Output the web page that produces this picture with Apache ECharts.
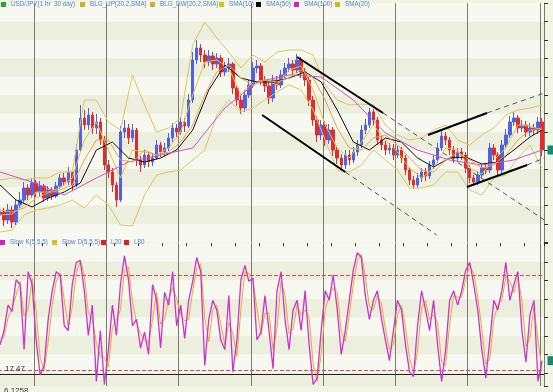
<!DOCTYPE html>
<html><head><meta charset="utf-8">
<script src="https://cdn.jsdelivr.net/npm/echarts@6/dist/echarts.min.js"></script>
<style>html,body{margin:0;padding:0;background:#f2f4e6;}#c{width:553px;height:392px;}</style>
</head><body><div id="c"></div>
<script>
// ---- data ----
const close = [101.88,101.80,101.90,101.78,101.95,102.00,102.12,102.05,102.17,102.08,
 102.14,102.02,102.10,102.04,102.14,102.22,102.18,102.28,102.15,102.50,
 102.82,102.75,102.85,102.72,102.78,102.60,102.35,102.28,102.15,102.00,
 102.68,102.72,102.62,102.70,102.40,102.35,102.45,102.38,102.42,102.55,
 102.48,102.52,102.62,102.72,102.68,102.78,102.74,103.00,103.40,103.52,
 103.45,103.38,103.44,103.36,103.42,103.28,103.32,103.36,103.12,103.00,
 102.92,103.05,103.15,103.32,103.34,103.20,103.14,103.02,103.20,103.15,
 103.25,103.32,103.36,103.30,103.40,103.28,103.20,103.00,102.80,102.65,
 102.75,102.60,102.70,102.50,102.42,102.35,102.45,102.40,102.48,102.55,
 102.70,102.75,102.88,102.80,102.60,102.55,102.50,102.52,102.45,102.50,
 102.42,102.30,102.20,102.15,102.22,102.28,102.24,102.35,102.40,102.52,
 102.64,102.60,102.50,102.42,102.48,102.45,102.32,102.22,102.18,102.25,
 102.32,102.30,102.52,102.45,102.30,102.55,102.65,102.78,102.82,102.72,
 102.75,102.68,102.72,102.70,102.78,102.50];
const firstOpen = 101.85;
const high = [101.95,101.92,101.96,101.94,102.01,102.08,102.18,102.16,102.22,102.20,
 102.19,102.16,102.14,102.13,102.18,102.26,102.27,102.33,102.30,102.56,
 102.95,102.90,102.92,102.88,102.86,102.82,102.64,102.40,102.32,102.18,
 102.74,102.80,102.76,102.76,102.72,102.44,102.50,102.48,102.47,102.60,
 102.58,102.57,102.67,102.77,102.76,102.83,102.82,103.06,103.48,103.60,
 103.56,103.50,103.50,103.48,103.47,103.45,103.38,103.42,103.38,103.15,
 103.04,103.10,103.20,103.38,103.40,103.37,103.24,103.18,103.25,103.24,
 103.30,103.37,103.42,103.40,103.46,103.43,103.32,103.23,103.04,102.84,
 102.80,102.79,102.76,102.73,102.54,102.46,102.50,102.50,102.53,102.60,
 102.75,102.81,102.92,102.91,102.83,102.64,102.59,102.57,102.56,102.54,
 102.53,102.45,102.33,102.24,102.27,102.32,102.32,102.39,102.45,102.57,
 102.70,102.68,102.63,102.54,102.52,102.52,102.48,102.35,102.25,102.29,
 102.36,102.36,102.57,102.56,102.48,102.60,102.71,102.84,102.88,102.85,
 102.80,102.79,102.77,102.76,102.83,102.82];
const low = [101.78,101.74,101.76,101.72,101.75,101.92,101.97,102.00,102.02,102.03,
 102.04,101.98,101.99,102.00,102.02,102.11,102.14,102.15,102.10,102.13,
 102.48,102.70,102.70,102.66,102.66,102.55,102.30,102.22,102.08,101.93,
 101.98,102.62,102.56,102.58,102.34,102.28,102.32,102.33,102.34,102.40,
 102.43,102.44,102.49,102.58,102.62,102.65,102.68,102.72,102.97,103.36,
 103.38,103.32,103.34,103.30,103.32,103.23,103.24,103.28,103.06,102.94,
 102.86,102.88,103.02,103.12,103.27,103.15,103.08,102.96,102.98,103.10,
 103.12,103.22,103.28,103.25,103.27,103.22,103.14,102.94,102.74,102.58,
 102.60,102.54,102.56,102.44,102.36,102.31,102.31,102.35,102.37,102.44,
 102.52,102.66,102.72,102.74,102.55,102.50,102.45,102.46,102.40,102.42,
 102.37,102.25,102.15,102.11,102.12,102.18,102.19,102.21,102.31,102.37,
 102.49,102.55,102.45,102.37,102.38,102.40,102.27,102.17,102.14,102.15,
 102.22,102.26,102.27,102.40,102.24,102.27,102.52,102.62,102.74,102.67,
 102.68,102.63,102.64,102.65,102.66,102.44];
// sampled every 3 bars
const bbUp = [102.20,102.22,102.20,102.22,102.22,102.28,102.28,103.00,103.00,102.78,
 102.70,103.25,102.95,102.68,102.72,102.82,103.55,103.78,103.62,103.48,
 103.32,103.45,103.38,103.48,103.50,103.50,103.45,103.15,103.00,102.95,
 102.96,102.95,102.75,102.65,102.60,102.62,102.70,102.75,102.60,102.55,
 102.65,102.72,102.85,102.90,102.92,102.95];
const bbDn = [101.68,101.70,101.85,101.90,101.92,101.95,102.00,101.92,102.05,101.95,
 101.75,101.74,102.05,102.25,102.28,102.30,102.40,102.50,102.85,103.00,
 102.88,102.92,103.00,103.08,103.15,103.10,102.90,102.60,102.30,102.28,
 102.35,102.50,102.40,102.30,102.12,102.12,102.15,102.28,102.28,102.10,
 102.05,102.22,102.25,102.42,102.55,102.32];
const sma10 = [101.85,101.86,101.95,102.08,102.08,102.12,102.22,102.60,102.78,102.50,
 102.22,102.50,102.48,102.45,102.52,102.68,103.05,103.38,103.40,103.32,
 103.05,103.18,103.20,103.15,103.30,103.34,103.10,102.75,102.52,102.42,
 102.58,102.75,102.60,102.48,102.32,102.22,102.32,102.52,102.50,102.32,
 102.26,102.40,102.52,102.75,102.74,102.70];
const sma20 = [101.90,101.88,101.92,102.02,102.07,102.10,102.15,102.40,102.60,102.60,
 102.40,102.38,102.50,102.45,102.48,102.58,102.75,103.05,103.28,103.35,
 103.22,103.15,103.20,103.18,103.22,103.30,103.22,103.00,102.72,102.52,
 102.50,102.62,102.65,102.55,102.42,102.30,102.28,102.40,102.48,102.40,
 102.32,102.35,102.45,102.60,102.70,102.72];
// sampled every 4 bars
const sma50 = [102.15,102.00,101.93,102.02,102.08,102.17,102.50,102.58,102.42,102.38,
 102.42,102.50,102.70,103.10,103.35,103.22,103.18,103.18,103.22,103.28,
 103.18,102.90,102.58,102.50,102.62,102.58,102.42,102.33,102.42,102.43,
 102.36,102.38,102.50,102.63,102.70];
// sampled every 8 bars
const sma100 = [102.28,102.18,102.05,102.22,102.38,102.45,102.52,102.92,103.18,103.25,
 103.23,103.00,102.67,102.50,102.40,102.35,102.40,102.50];
const stochK = [36,45,61,57,77,74,33,82,74,39,
 17,23,52,70,82,80,48,45,74,88,
 89,70,42,61,13,45,11,33,61,42,
 74,92,77,48,52,34,44,30,74,64,
 34,69,61,82,48,61,40,64,76,91,
 82,23,52,64,58,39,33,67,19,39,
 77,86,76,78,39,44,67,45,21,70,
 82,52,33,58,64,45,70,36,11,15,
 45,70,64,80,58,30,45,64,83,94,
 91,67,52,64,70,53,39,26,45,64,
 58,36,19,16,48,70,58,45,64,36,
 13,33,64,70,61,70,83,88,74,58,
 33,15,39,64,58,70,88,64,74,82,
 45,25,55,64,13,26];
const stochD = [38,41,53,59,67,76,54,58,78,57,
 28,20,38,61,76,81,64,47,60,81,
 89,80,56,52,37,29,28,22,47,52,
 58,83,85,63,50,43,39,37,52,69,
 49,52,65,72,65,55,51,52,70,84,
 87,53,38,58,61,49,36,50,43,29,
 58,82,81,77,59,42,56,56,33,46,
 76,67,43,46,61,55,58,53,24,13,
 30,58,67,72,69,44,38,55,74,89,
 93,79,60,58,67,62,46,33,36,55,
 61,47,28,18,32,59,64,52,55,50,
 25,23,49,67,66,66,77,86,81,66,
 46,24,27,52,61,64,79,76,69,78,
 64,35,40,60,39,20];
const stochLevels = [20, 80];
const stochMarkLevel = 17.47;
// trend lines: [barIndex1, price1, barIndex2, price2]
const trendSolid = [[74,103.43,95.4,102.87],[65.3,102.85,86.0,102.28],[106.6,102.65,121.3,102.87],[116.3,102.13,131.3,102.35]];
const trendDashed = [[95.4,102.87,135.6,101.80],[86.0,102.28,108.8,101.65],[121.3,102.87,135.6,103.07],[131.3,102.35,135.6,102.42]];
const xTickLabels = ['6.1258'];

// ---- build ----
const N = close.length;
const categories = close.map((_, i) => 'h' + i);
const openP = [firstOpen].concat(close.slice(0, N - 1));
const candles = close.map((c, i) => [openP[i], c, low[i], high[i]]);
const sampled = (vals, step) => vals.map((v, k) => [Math.min(k * step, N - 1), v]);

const FONT = 'Liberation Sans';
const legTxt = {fontSize: 6.3, color: '#5b7fcc', fontFamily: FONT};
function leg(name, color, left, top) {
  return {data: [{name: name, itemStyle: {color: color, borderColor: color, borderWidth: 0}}], left: left, top: top, icon: 'rect',
    itemWidth: 5, itemHeight: 5, padding: 0, selectedMode: false, textStyle: legTxt};
}
function ln(name, data, color, xi, yi, width, z) {
  return {name: name, type: 'line', xAxisIndex: xi, yAxisIndex: yi, data: data, symbol: 'none',
    showSymbol: false, lineStyle: {color: color, width: width}, itemStyle: {color: color}, z: z || 4, silent: true};
}
const bandColors = ['#f7f8ef', '#ecefde'];
const vSplit = {show: true, interval: (i) => i % 18 === 9, lineStyle: {color: '#7a7a72', width: 1}};

const series = [
  {name: 'USD/JPY(1 hr  30 day)', type: 'candlestick', xAxisIndex: 0, yAxisIndex: 0, data: candles,
   barWidth: 3, z: 3,
   itemStyle: {color: '#5062e4', color0: '#e52a2e', borderColor: '#5062e4', borderColor0: '#e52a2e', borderWidth: 1},
   markPoint: {symbol: 'rect', symbolSize: [7, 9], symbolOffset: [9, 0], label: {show: false},
     itemStyle: {color: '#168a74'}, data: [{coord: [N - 1, close[N - 1]]}]}},
  ln('BLG_UP(20,2,SMA)', sampled(bbUp, 3), '#d8c862', 0, 0, 1),
  ln('BLG_DW(20,2,SMA)', sampled(bbDn, 3), '#d8c862', 0, 0, 1),
  ln('SMA(10)', sampled(sma10, 3), '#e0c43a', 0, 0, 1),
  ln('SMA(50)', sampled(sma50, 4), '#111111', 0, 0, 1),
  ln('SMA(100)', sampled(sma100, 8), '#d050c8', 0, 0, 1),
  ln('SMA(20)', sampled(sma20, 3), '#e2a64a', 0, 0, 1),
  ln('Slow D(5,5,5)', stochD, '#e8a830', 1, 2, 1, 4),
  Object.assign(ln('Slow K(5,5,5)', stochK, '#cc33cc', 1, 2, 1.3, 5), {
    markPoint: {symbol: 'rect', symbolSize: [7, 9], symbolOffset: [9, 0], label: {show: false},
      itemStyle: {color: '#168a74'}, data: [{coord: [N - 1, stochK[N - 1]]}]},
    markLine: {symbol: 'none', silent: true,
      data: [{yAxis: stochMarkLevel, lineStyle: {color: '#222', type: 'solid', width: 1},
        label: {show: true, position: 'insideStartTop', formatter: '{c}', fontSize: 8, color: '#333', fontFamily: FONT, distance: [7, 1]}}]}}),
  {name: 'L20', type: 'line', xAxisIndex: 1, yAxisIndex: 2, data: [],
   markLine: {symbol: 'none', silent: true, label: {show: false}, lineStyle: {color: '#e84848', type: [4, 2], width: 1}, data: [{yAxis: stochLevels[0]}]}},
  {name: 'L80', type: 'line', xAxisIndex: 1, yAxisIndex: 2, data: [],
   markLine: {symbol: 'none', silent: true, label: {show: false}, lineStyle: {color: '#e84848', type: [4, 2], width: 1}, data: [{yAxis: stochLevels[1]}]}}
];
trendSolid.forEach(t => series.push({type: 'line', xAxisIndex: 2, yAxisIndex: 0, data: [[t[0], t[1]], [t[2], t[3]]],
  symbol: 'none', silent: true, z: 6, lineStyle: {color: '#000', width: 2, type: 'solid'}}));
trendDashed.forEach(t => series.push({type: 'line', xAxisIndex: 2, yAxisIndex: 0, data: [[t[0], t[1]], [t[2], t[3]]],
  symbol: 'none', silent: true, z: 6, lineStyle: {color: '#555', width: 1, type: [5, 4]}}));

const tickAxis = (grid, max) => ({gridIndex: grid, type: 'value', min: 0, max: max, interval: 1, inverse: true,
  position: 'right', axisLine: {show: false}, axisTick: {show: true, length: 4, lineStyle: {color: '#333'}},
  axisLabel: {show: false}, splitLine: {show: false}, splitArea: {show: true, areaStyle: {color: bandColors}}});

const option = {
  animation: false,
  backgroundColor: '#f2f4e6',
  legend: [
    leg('USD/JPY(1 hr  30 day)', '#2aa82a', 1, 1.5),
    leg('BLG_UP(20,2,SMA)', '#c8b42a', 80, 1.5),
    leg('BLG_DW(20,2,SMA)', '#c8b42a', 150, 1.5),
    leg('SMA(10)', '#d8c020', 219, 1.5),
    leg('SMA(50)', '#000000', 256, 1.5),
    leg('SMA(100)', '#d020c0', 294, 1.5),
    leg('SMA(20)', '#d8b030', 335, 1.5),
    leg('Slow K(5,5,5)', '#cc22cc', 0, 239.5),
    leg('Slow D(5,5,5)', '#d8c020', 52, 239.5),
    leg('L20', '#e02020', 101, 239.5),
    leg('L80', '#e02020', 124, 239.5)
  ],
  grid: [
    {left: -2, right: 9, top: 3.3, height: 239.2, containLabel: false, outerBoundsMode: 'none'},
    {left: -2, right: 9, top: 243.2, height: 142.9, containLabel: false, outerBoundsMode: 'none'}
  ],
  xAxis: [
    {gridIndex: 0, type: 'category', data: categories, boundaryGap: true, axisLine: {show: false},
     axisTick: {show: false}, axisLabel: {show: false}, splitLine: vSplit},
    {gridIndex: 1, type: 'category', data: categories, boundaryGap: true, axisLine: {show: false},
     axisTick: {show: true, interval: (i) => i % 6 === 5, length: 3, lineStyle: {color: '#333'}},
     axisLabel: {show: true, interval: (i) => i === 0, formatter: (v, i) => (i === 0 ? xTickLabels[0] : ''),
       fontSize: 8, color: '#333', fontFamily: FONT, align: 'left', margin: 1, padding: [0, 0, 0, 4]},
     splitLine: vSplit},
    {gridIndex: 0, type: 'value', min: -0.5, max: N - 0.5, show: false}
  ],
  yAxis: [
    {gridIndex: 0, type: 'value', min: 101.575, max: 103.967, show: false},
    tickAxis(0, 13),
    {gridIndex: 1, type: 'value', min: 10, max: 100, show: false},
    tickAxis(1, 7.7)
  ],
  series: series
};
const chart = echarts.init(document.getElementById('c'), null, {renderer: 'canvas'});
chart.setOption(option);
</script></body></html>
